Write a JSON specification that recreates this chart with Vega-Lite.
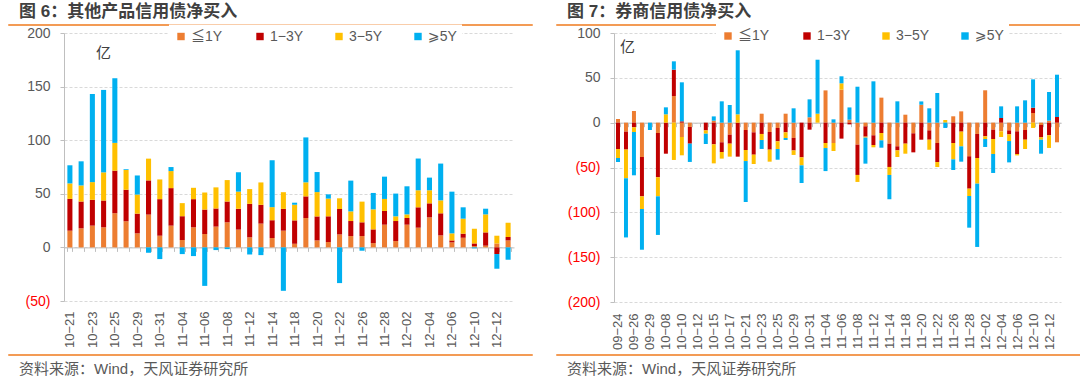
{
  "$schema": "https://vega.github.io/schema/vega-lite/v6.json",
  "padding": {"left": 7, "top": 2, "right": 0, "bottom": 0},
  "config": {
    "view": {"stroke": null},
    "font": "Liberation Sans, Noto Sans CJK SC, DejaVu Sans",
    "bar": {"stroke": null}
  },
  "datasets": {
    "left": [
      {"date": "10-21", "a": 15.6, "b": 29.7, "c": 14.4, "d": 16.9},
      {"date": "10-22", "a": 17.8, "b": 25, "c": 15, "d": 22.5},
      {"date": "10-23", "a": 20.3, "b": 24.1, "c": 16.5, "d": 82.2},
      {"date": "10-24", "a": 18.75, "b": 25, "c": 26.25, "d": 76.9},
      {"date": "10-25", "a": 31.9, "b": 39.7, "c": 25.9, "d": 60.3},
      {"date": "10-28", "a": 24.4, "b": 29.4, "c": 18.4, "d": 0.6},
      {"date": "10-29", "a": 13.1, "b": 18.4, "c": 17.8, "d": 17.8},
      {"date": "10-30", "a": 30.6, "b": 31.9, "c": 20.3, "d": -5},
      {"date": "10-31", "a": 10.9, "b": 34.1, "c": 18.4, "d": -10.9},
      {"date": "11-01", "a": 20.3, "b": 35, "c": 15.9, "d": 3.75},
      {"date": "11-04", "a": 6.9, "b": 22.2, "c": 12.2, "d": -6.25},
      {"date": "11-05", "a": 18.75, "b": 26.25, "c": 10.6, "d": -8.1},
      {"date": "11-06", "a": 12.5, "b": 22.8, "c": 15.9, "d": -35.9},
      {"date": "11-07", "a": 19.4, "b": 16.9, "c": 19.7, "d": -2.5},
      {"date": "11-08", "a": 23.4, "b": 19.4, "c": 20, "d": -1.6},
      {"date": "11-11", "a": 16.6, "b": 19.4, "c": 16, "d": 18.1},
      {"date": "11-12", "a": 9.4, "b": 31.25, "c": 13.75, "d": -6.6},
      {"date": "11-13", "a": 22.2, "b": 17.5, "c": 20.9, "d": -7.2},
      {"date": "11-14", "a": 8.75, "b": 16.6, "c": 12.2, "d": 43.75},
      {"date": "11-15", "a": 15.6, "b": 20.3, "c": 15.6, "d": -40.5},
      {"date": "11-18", "a": 3.4, "b": 21.8, "c": 14.6, "d": 1.9},
      {"date": "11-19", "a": 27.4, "b": 20.2, "c": 13.1, "d": 41.9},
      {"date": "11-20", "a": 6.5, "b": 22.4, "c": 22.7, "d": 18.7},
      {"date": "11-21", "a": 5, "b": 24, "c": 16.5, "d": 4},
      {"date": "11-22", "a": 12.1, "b": 23.7, "c": 10, "d": -33.3},
      {"date": "11-25", "a": 10.6, "b": 14, "c": 9, "d": 28.7},
      {"date": "11-26", "a": 10.6, "b": 12.8, "c": 19.3, "d": -3.1},
      {"date": "11-27", "a": 4, "b": 12.8, "c": 18.7, "d": 15.3},
      {"date": "11-28", "a": 21.2, "b": 12.8, "c": 11.2, "d": 20.8},
      {"date": "11-29", "a": 5.9, "b": 18.7, "c": 4.4, "d": 21.2},
      {"date": "12-02", "a": 21.2, "b": 6.2, "c": 3.4, "d": 26.2},
      {"date": "12-03", "a": 18.4, "b": 19, "c": 15.9, "d": 29.6},
      {"date": "12-04", "a": 28, "b": 13.1, "c": 12.2, "d": 11.8},
      {"date": "12-05", "a": 11.2, "b": 20.6, "c": 12.1, "d": 34.3},
      {"date": "12-06", "a": 4.7, "b": 1.8, "c": 6.6, "d": 38.9},
      {"date": "12-09", "a": 9, "b": 3.8, "c": 14, "d": 10.6},
      {"date": "12-10", "a": 1.2, "b": 2.5, "c": 13.7, "d": -0.9},
      {"date": "12-11", "a": 1.6, "b": 12.4, "c": 16.8, "d": 5.3},
      {"date": "12-12", "a": 3.7, "b": -6.2, "c": 7.2, "d": -13.7},
      {"date": "12-13", "a": 6.5, "b": 3.2, "c": 13.3, "d": -11.5}
    ],
    "right": [
      {"date": "09-24", "a": 4.1, "b": -29.4, "c": -10, "d": -4.5},
      {"date": "09-25", "a": -10, "b": -20, "c": -32, "d": -66},
      {"date": "09-26", "a": 13, "b": -5.2, "c": -5.2, "d": -48.3},
      {"date": "09-27", "a": -38.3, "b": -43.9, "c": -14.1, "d": -45.4},
      {"date": "09-29", "a": 0, "b": 0, "c": 0, "d": -8.2},
      {"date": "09-30", "a": -11.5, "b": -49.4, "c": -21.2, "d": -43.1},
      {"date": "10-08", "a": 0, "b": -34.6, "c": 9.3, "d": 7.8},
      {"date": "10-09", "a": 29.7, "b": 29.4, "c": -41.6, "d": 9.3},
      {"date": "10-10", "a": -16, "b": 1.5, "c": -20.4, "d": 43.5},
      {"date": "10-11", "a": -4.8, "b": -18.6, "c": 0, "d": -20.4},
      {"date": "10-12", "a": 0, "b": 0, "c": 0, "d": 0},
      {"date": "10-14", "a": 0, "b": -8.6, "c": -3.7, "d": -11.5},
      {"date": "10-15", "a": 2.2, "b": -24.2, "c": -21.2, "d": 4.8},
      {"date": "10-16", "a": -21.9, "b": -10.8, "c": -7.4, "d": 23.8},
      {"date": "10-17", "a": -13.4, "b": -10, "c": -14.5, "d": 19.7},
      {"date": "10-18", "a": 0, "b": -37.9, "c": 9.3, "d": 71.4},
      {"date": "10-21", "a": -8.2, "b": -22.3, "c": -12.3, "d": -45.7},
      {"date": "10-22", "a": -10.8, "b": -24.9, "c": -10.4, "d": 0},
      {"date": "10-23", "a": 10, "b": -12.6, "c": -6.7, "d": -10},
      {"date": "10-24", "a": -10.4, "b": -19.7, "c": -13.4, "d": 0},
      {"date": "10-25", "a": -5.9, "b": -14.9, "c": -8.6, "d": -11.9},
      {"date": "10-28", "a": 10, "b": -10.8, "c": -6.3, "d": -2.2},
      {"date": "10-29", "a": -17, "b": -14, "c": -5, "d": 16},
      {"date": "10-30", "a": 0, "b": -38.7, "c": -8.9, "d": -19.7},
      {"date": "10-31", "a": 6, "b": -7.8, "c": 0, "d": 20},
      {"date": "11-01", "a": 0, "b": 0, "c": 10, "d": 60.2},
      {"date": "11-04", "a": 36, "b": -22.7, "c": -5.6, "d": -25.7},
      {"date": "11-05", "a": -22.7, "b": 0, "c": -8.9, "d": 3.7},
      {"date": "11-06", "a": 36.8, "b": -17.8, "c": 7.1, "d": 7.8},
      {"date": "11-07", "a": 3.3, "b": -1.9, "c": 0, "d": 13.7},
      {"date": "11-08", "a": -24.5, "b": -33.8, "c": -7.8, "d": 40.1},
      {"date": "11-11", "a": -4.1, "b": -11.5, "c": -1.1, "d": -29},
      {"date": "11-12", "a": -14.1, "b": -10.8, "c": -2.6, "d": 46.1},
      {"date": "11-13", "a": 27.9, "b": -11.5, "c": -8.2, "d": -8.2},
      {"date": "11-14", "a": -23.4, "b": -26, "c": -8.9, "d": -27.1},
      {"date": "11-15", "a": -26.4, "b": -4.5, "c": -7.4, "d": 23.8},
      {"date": "11-18", "a": 8.9, "b": -23.4, "c": -11.2, "d": 0},
      {"date": "11-19", "a": -11.9, "b": -21.2, "c": 0, "d": 0},
      {"date": "11-20", "a": 20, "b": -19, "c": 0, "d": 3.7},
      {"date": "11-21", "a": -8.6, "b": -10.4, "c": -11.2, "d": 16},
      {"date": "11-22", "a": -22.7, "b": -21.2, "c": -5.6, "d": 33.1},
      {"date": "11-25", "a": 0, "b": 0, "c": 3, "d": -5.9},
      {"date": "11-26", "a": 7.1, "b": -22.7, "c": -18.2, "d": -11.9},
      {"date": "11-27", "a": 12.6, "b": -10, "c": -16.4, "d": -17.1},
      {"date": "11-28", "a": -37.5, "b": -36.1, "c": -8.2, "d": -35.3},
      {"date": "11-29", "a": -12.6, "b": -26.8, "c": -28.6, "d": -70.6},
      {"date": "12-02", "a": 36.1, "b": -15.2, "c": -3, "d": -8.9},
      {"date": "12-03", "a": -7.8, "b": -10.4, "c": -16.7, "d": -21.2},
      {"date": "12-04", "a": -9.7, "b": 5.2, "c": -6.3, "d": 13},
      {"date": "12-05", "a": -8.6, "b": -4.5, "c": -7.4, "d": -23.8},
      {"date": "12-06", "a": -9.7, "b": -25.3, "c": -1.5, "d": 18.2},
      {"date": "12-09", "a": -8.2, "b": -10.8, "c": -10.4, "d": 24.9},
      {"date": "12-10", "a": 10.8, "b": 5.9, "c": -5.9, "d": 31.6},
      {"date": "12-11", "a": -2.6, "b": -13.8, "c": -2.6, "d": -15.6},
      {"date": "12-12", "a": 2.2, "b": -14.1, "c": -14.1, "d": 32},
      {"date": "12-13", "a": -21.9, "b": 6.3, "c": 0, "d": 47.2}
    ]
  },
  "resolve": {"scale": {"x": "independent", "y": "independent", "color": "independent"}, "legend": {"color": "independent"}},
  "columns": 1,
  "align": "none",
  "spacing": -2,
  "concat": [
    {
      "spacing": 22,
      "resolve": {"scale": {"x": "independent", "y": "independent"}},
      "hconcat": [
        {
          "width": 524, "height": 1,
          "view": {"stroke": "#F39B55", "strokeWidth": 1, "fill": null},
          "data": {"values": [{}]},
          "title": {"text": "图 6：其他产品信用债净买入", "anchor": "start", "fontSize": 17, "fontWeight": "bold", "color": "#404040", "offset": 3, "dx": 11, "font": "Liberation Sans, Noto Sans CJK SC"},
          "mark": {"type": "rule", "opacity": 0},
          "encoding": {"y": {"datum": 0, "type": "quantitative", "scale": {"domain": [0, 1]}, "axis": null}}
        },
        {
          "width": 524, "height": 1,
          "view": {"stroke": "#F39B55", "strokeWidth": 1, "fill": null},
          "data": {"values": [{}]},
          "title": {"text": "图 7：券商信用债净买入", "anchor": "start", "fontSize": 17, "fontWeight": "bold", "color": "#404040", "offset": 3, "dx": 11, "font": "Liberation Sans, Noto Sans CJK SC"},
          "mark": {"type": "rule", "opacity": 0},
          "encoding": {"y": {"datum": 0, "type": "quantitative", "scale": {"domain": [0, 1]}, "axis": null}}
        }
      ]
    },
    {
      "spacing": 0,
      "resolve": {"scale": {"x": "independent", "y": "independent", "color": "independent"}, "legend": {"color": "independent"}},
      "hconcat": [
        {
          "width": 1, "height": 322,
          "data": {"values": [{}]},
          "mark": {"type": "rule", "opacity": 0},
          "encoding": {"y": {"datum": 0, "type": "quantitative", "scale": {"domain": [0, 1]}, "axis": null}}
        },
        {
          "width": 450, "height": 268,
          "data": {"name": "left"},
          "transform": [{"fold": ["a", "b", "c", "d"], "as": ["tenor", "value"]}],
          "mark": {"type": "bar"},
          "encoding": {
            "x": {"field": "date", "type": "ordinal", "sort": null,
              "scale": {"paddingInner": 0.55, "paddingOuter": 0.3},
              "axis": {"title": null, "offset": -53.6, "domainColor": "#BFBFBF", "tickColor": "#BFBFBF", "tickSize": 4, "tickBand": "extent", "grid": false,
                "labelAngle": -90, "labelPadding": 59.6, "labelFontSize": 13, "labelColor": "#595959", "labelOverlap": false,
                "labelExpr": "indexof(['10-21','10-23','10-25','10-29','10-31','11-04','11-06','11-08','11-12','11-14','11-18','11-20','11-22','11-26','11-28','12-02','12-04','12-06','12-10','12-12'], datum.value) >= 0 ? replace(datum.value, '-', '−') : ''"}},
            "y": {"field": "value", "type": "quantitative", "stack": "zero",
              "scale": {"domain": [-50, 200], "nice": false, "zero": false},
              "axis": {"values": [-50, 0, 50, 100, 150, 200], "title": "亿", "titleAngle": 0, "titleX": 39, "titleY": 19, "titleFontSize": 15, "titleFontWeight": "normal", "titleColor": "#404040", "titleAlign": "center", "titleBaseline": "middle",
                "labelExpr": "datum.value < 0 ? '(' + abs(datum.value) + ')' : datum.label",
                "labelColor": {"condition": {"test": "datum.value < 0", "value": "#FF0000"}, "value": "#595959"},
                "labelFontSize": 14, "labelPadding": 10, "tickSize": 4, "tickColor": "#BFBFBF", "domainColor": "#BFBFBF", "grid": true, "gridColor": "#D9D9D9", "gridDash": [3, 2], "minExtent": 55}},
            "color": {"field": "tenor", "type": "nominal",
              "scale": {"domain": ["a", "b", "c", "d"], "range": ["#ED7D31", "#C00000", "#FFC000", "#00B0F0"]},
              "legend": {"orient": "none", "legendX": 105, "legendY": -8.5, "direction": "horizontal", "title": null, "fillColor": "white", "padding": 5,
                "symbolType": "square", "symbolSize": 55, "symbolStrokeWidth": 0, "labelFontSize": 14, "labelColor": "#595959", "labelOffset": 3, "columnPadding": 28, "gridAlign": "all",
                "labelExpr": "{'a': '≦1Y', 'b': '1−3Y', 'c': '3−5Y', 'd': '⩾5Y'}[datum.value]"}},
            "order": {"field": "tenor", "sort": "ascending"}
          }
        },
        {
          "width": 447, "height": 269,
          "data": {"name": "right"},
          "transform": [{"fold": ["a", "b", "c", "d"], "as": ["tenor", "value"]}],
          "mark": {"type": "bar"},
          "encoding": {
            "x": {"field": "date", "type": "ordinal", "sort": null,
              "scale": {"paddingInner": 0.5, "paddingOuter": 0.25},
              "axis": {"title": null, "offset": -179.33, "domainColor": "#BFBFBF", "tickColor": "#BFBFBF", "tickSize": 4, "tickBand": "extent", "grid": false,
                "labelAngle": -90, "labelPadding": 186.3, "labelFontSize": 13, "labelColor": "#595959", "labelOverlap": false,
                "labelExpr": "indexof(['09-24','09-26','09-29','10-08','10-10','10-12','10-15','10-17','10-21','10-23','10-25','10-29','10-31','11-04','11-06','11-08','11-12','11-14','11-18','11-20','11-22','11-26','11-28','12-02','12-04','12-06','12-10','12-12'], datum.value) >= 0 ? replace(datum.value, '-', '−') : ''"}},
            "y": {"field": "value", "type": "quantitative", "stack": "zero",
              "scale": {"domain": [-200, 100], "nice": false, "zero": false},
              "axis": {"values": [-200, -150, -100, -50, 0, 50, 100], "title": "亿", "titleAngle": 0, "titleX": 13, "titleY": 13, "titleFontSize": 15, "titleFontWeight": "normal", "titleColor": "#404040", "titleAlign": "center", "titleBaseline": "middle",
                "labelExpr": "datum.value < 0 ? '(' + abs(datum.value) + ')' : datum.label",
                "labelColor": {"condition": {"test": "datum.value < 0", "value": "#FF0000"}, "value": "#595959"},
                "labelFontSize": 14, "labelPadding": 10, "tickSize": 4, "tickColor": "#BFBFBF", "domainColor": "#BFBFBF", "grid": true, "gridColor": "#D9D9D9", "gridDash": [3, 2], "minExtent": 98}},
            "color": {"field": "tenor", "type": "nominal",
              "scale": {"domain": ["a", "b", "c", "d"], "range": ["#ED7D31", "#C00000", "#FFC000", "#00B0F0"]},
              "legend": {"orient": "none", "legendX": 102, "legendY": -9, "direction": "horizontal", "title": null, "fillColor": "white", "padding": 5,
                "symbolType": "square", "symbolSize": 55, "symbolStrokeWidth": 0, "labelFontSize": 14, "labelColor": "#595959", "labelOffset": 3, "columnPadding": 28, "gridAlign": "all",
                "labelExpr": "{'a': '≦1Y', 'b': '1−3Y', 'c': '3−5Y', 'd': '⩾5Y'}[datum.value]"}},
            "order": {"field": "tenor", "sort": "ascending"}
          }
        }
      ]
    },
    {
      "spacing": 22,
      "resolve": {"scale": {"x": "independent", "y": "independent"}},
      "hconcat": [
        {
          "width": 524, "height": 1,
          "view": {"stroke": "#F39B55", "strokeWidth": 1, "fill": null},
          "data": {"values": [{}]},
          "title": {"text": "资料来源：Wind，天风证券研究所", "orient": "bottom", "anchor": "start", "fontSize": 15, "fontWeight": "normal", "color": "#595959", "offset": 7, "dx": 11, "font": "Liberation Sans, Noto Sans CJK SC"},
          "mark": {"type": "rule", "opacity": 0},
          "encoding": {"y": {"datum": 0, "type": "quantitative", "scale": {"domain": [0, 1]}, "axis": null}}
        },
        {
          "width": 524, "height": 1,
          "view": {"stroke": "#F39B55", "strokeWidth": 1, "fill": null},
          "data": {"values": [{}]},
          "title": {"text": "资料来源：Wind，天风证券研究所", "orient": "bottom", "anchor": "start", "fontSize": 15, "fontWeight": "normal", "color": "#595959", "offset": 7, "dx": 11, "font": "Liberation Sans, Noto Sans CJK SC"},
          "mark": {"type": "rule", "opacity": 0},
          "encoding": {"y": {"datum": 0, "type": "quantitative", "scale": {"domain": [0, 1]}, "axis": null}}
        }
      ]
    }
  ]
}
